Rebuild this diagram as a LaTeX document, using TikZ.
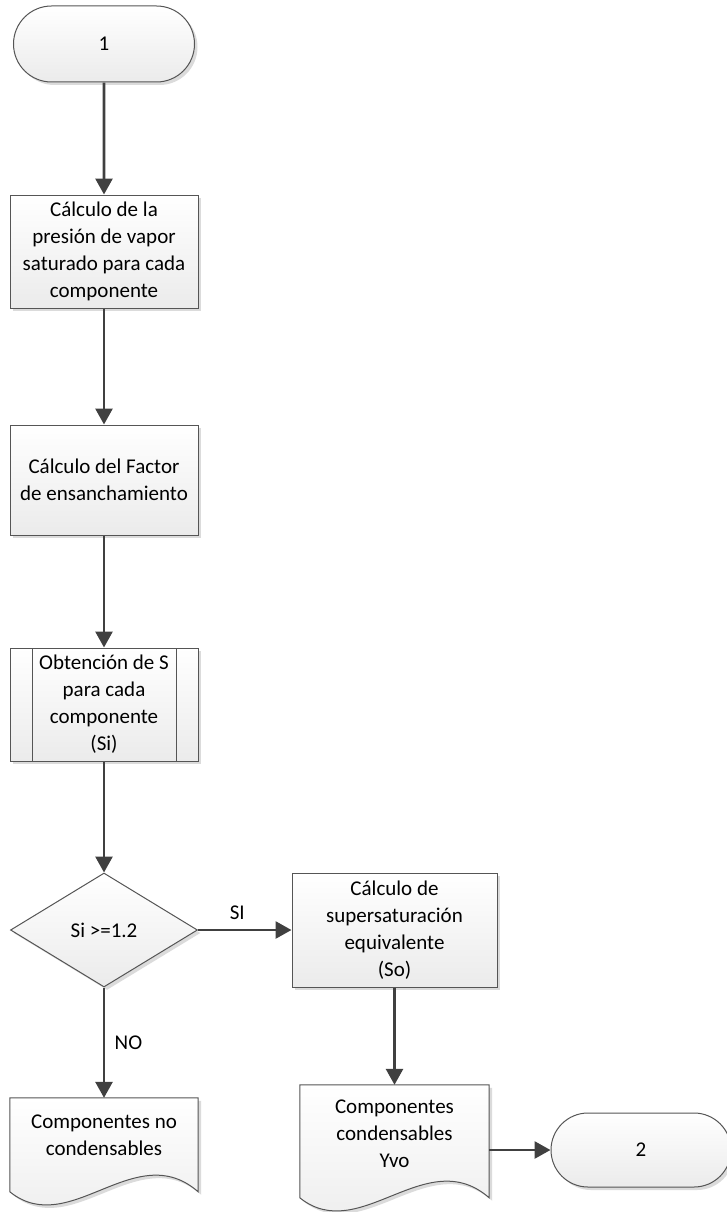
\documentclass[tikz,border=0pt]{standalone}
\usepackage{fontspec}
\setmainfont{Carlito}
\usetikzlibrary{arrows.meta,shapes.geometric,shapes.misc,shadows,calc,backgrounds}
\definecolor{ink}{RGB}{64,64,64}
\definecolor{rim}{RGB}{85,85,85}
\definecolor{shade}{RGB}{235,235,235}
\tikzset{
  >={Triangle[length=16pt,width=17pt]},
  flow/.style={->,line width=2.8pt,draw=ink},
  txt/.style={align=center,font=\fontsize{21}{27}\selectfont},
  base/.style={txt,draw=rim,line width=1pt,top color=white,bottom color=shade,inner sep=4pt,
    drop shadow={shadow xshift=3pt,shadow yshift=-3pt,fill=black!14,opacity=1}},
  term/.style={base,rounded rectangle,minimum width=189pt,minimum height=76pt},
  proc/.style={base,rectangle,minimum width=188pt,minimum height=113pt},
  predef/.style={proc,path picture={
    \draw[rim,line width=1pt] ([xshift=22pt]path picture bounding box.north west) -- ([xshift=22pt]path picture bounding box.south west);
    \draw[rim,line width=1pt] ([xshift=-22pt]path picture bounding box.north east) -- ([xshift=-22pt]path picture bounding box.south east);
  }},
  decide/.style={base,diamond,aspect=1.6,inner sep=0pt,minimum width=187pt,minimum height=114pt},
  docbox/.style={txt,rectangle,inner sep=4pt,minimum width=188pt},
  docline/.style={draw=rim,line width=1pt,top color=white,bottom color=shade},
  docshadow/.style={fill=black!14,transform canvas={xshift=3pt,yshift=-3pt}},
  tag/.style={txt},
}
% document outline: node, side height, style
\newcommand\docoutline[3]{%
  \path[#3] (#1.north west) -- (#1.north east) -- ++(0,#2)
    .. controls +(-63,-55) and +(60,48) .. ($(#1.north west)+(0,#2)$) -- cycle;}

\begin{document}
\begin{tikzpicture}[x=1pt,y=-1pt]
  \useasboundingbox (0,0) rectangle (727,1212);
  \node[term] (t1) at (104,44) {1};
  \node[proc] (b1) at (104,251.5) {Cálculo de la\\presión de vapor\\saturado para cada\\componente};
  \node[proc,minimum height=110pt] (b2) at (104,480) {Cálculo del Factor\\de ensanchamiento};
  \node[predef] (b3) at (104,704.5) {Obtención de S\\para cada\\componente\\(Si)};
  \node[decide] (dec) at (104,930) {Si >=1.2};
  \node[proc,minimum width=205pt,minimum height=114pt] (b4) at (394.5,930) {Cálculo de\\supersaturación\\equivalente\\(So)};
  \node[docbox,minimum height=74pt] (d1) at (104,1135) {Componentes no\\condensables};
  \node[docbox,minimum width=189pt,minimum height=98pt] (d2) at (394.5,1134) {Componentes\\condensables\\Yvo};
  \node[term,minimum width=188pt,minimum height=74pt] (t2) at (641,1150) {2};
  \begin{scope}[on background layer]
    \docoutline{d1}{94}{docshadow} \docoutline{d1}{94}{docline}
    \docoutline{d2}{113}{docshadow} \docoutline{d2}{113}{docline}
  \end{scope}
  \draw[flow] (t1) -- (b1);
  \draw[flow] (b1) -- (b2);
  \draw[flow] (b2) -- (b3);
  \draw[flow] (b3) -- (dec);
  \draw[flow] (dec) -- node[tag,pos=0.42,above=6pt] {SI} (b4);
  \draw[flow] (dec) -- node[tag,right=6pt] {NO} (d1);
  \draw[flow] (b4) -- (d2);
  \draw[flow] (d2.east |- t2.west) -- (t2.west);
\end{tikzpicture}
\end{document}
